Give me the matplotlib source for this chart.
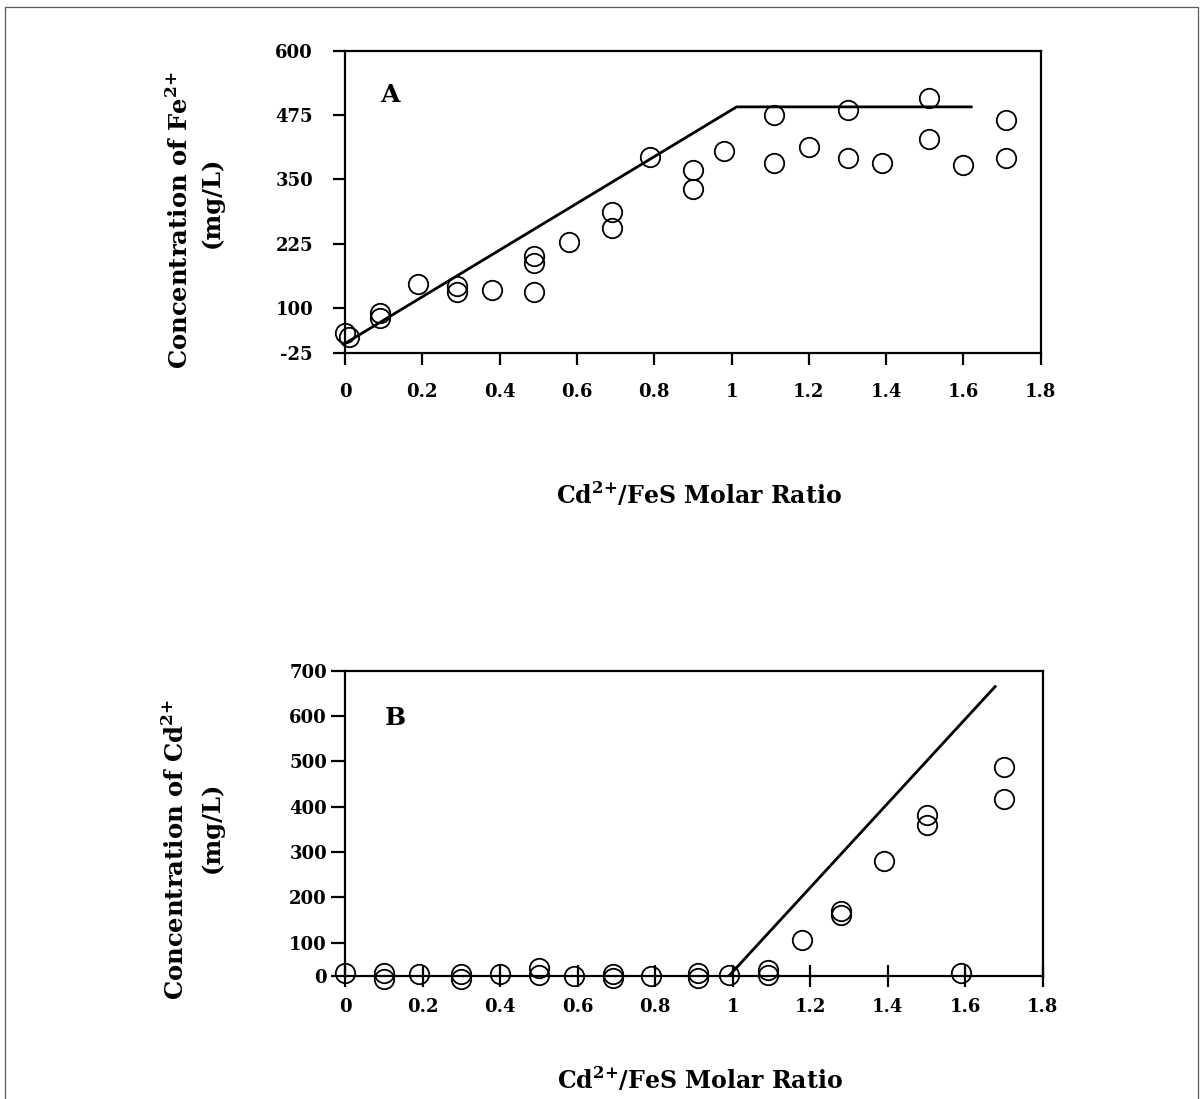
import numpy as np
import matplotlib
matplotlib.use("Agg")
import matplotlib.pyplot as plt
from matplotlib.patches import Rectangle
from matplotlib.ticker import FormatStrFormatter

plt.rcParams['font.family'] = ['DejaVu Serif']
plt.rcParams['font.weight'] = 'bold'
plt.rcParams['axes.unicode_minus'] = False
plt.rcParams['mathtext.fontset'] = 'custom'
plt.rcParams['mathtext.rm'] = 'DejaVu Serif:bold'
plt.rcParams['mathtext.bf'] = 'DejaVu Serif:bold'

# Fe2+ released vs Cd2+/FeS molar ratio
fe_ratio = [0, 0.01, 0.09, 0.09, 0.19, 0.29, 0.29, 0.38, 0.49, 0.49, 0.49, 0.58,
            0.69, 0.69, 0.79, 0.90, 0.90, 0.98, 1.11, 1.11, 1.20, 1.30, 1.30,
            1.39, 1.51, 1.51, 1.60, 1.71, 1.71]
fe_conc = [31, 20, 86, 71, 146, 142, 131, 134, 200, 188, 131, 228,
           287, 256, 393, 368, 331, 405, 475, 382, 413, 485, 391,
           381, 508, 428, 378, 465, 391]
fe_model_x = [0, 1.013, 1.62]
fe_model_y = [2, 491, 491]

# Cd2+ left in solution
cd_ratio = [0, 0.10, 0.10, 0.19, 0.30, 0.30, 0.40, 0.50, 0.50, 0.59, 0.69, 0.69,
            0.79, 0.91, 0.91, 0.99, 1.09, 1.09, 1.18, 1.28, 1.28, 1.39, 1.50,
            1.50, 1.59, 1.70, 1.70]
cd_conc = [8, 10, -10, 5, 5, -10, 5, 23, 3, 0, 7, -7,
           0, 10, -7, 2, 17, 3, 107, 169, 162, 281, 382,
           360, 10, 487, 418]
cd_model_x = [0.99, 1.677]
cd_model_y = [0, 665]

fe_ticks = [-25, 100, 225, 350, 475, 600]
cd_ticks = [0, 100, 200, 300, 400, 500, 600, 700]
x_ticks = [0, 0.2, 0.4, 0.6, 0.8, 1.0, 1.2, 1.4, 1.6, 1.8]


def squeeze_below(cut, k):
    # the lowest tick interval is drawn shorter than the others
    def fwd(v):
        v = np.asarray(v, dtype=float)
        return np.where(v < cut, cut - (cut - v) * k, v)

    def inv(u):
        u = np.asarray(u, dtype=float)
        return np.where(u < cut, cut - (cut - u) / k, u)
    return fwd, inv


def style_axes(ax, ytk, ylim, ylen, ypad, xdir, xlen, xpad):
    ax.set_xlim(0, 1.8)
    ax.set_ylim(*ylim)
    ax.set_xticks(x_ticks)
    ax.set_yticks(ytk)
    ax.xaxis.set_major_formatter(FormatStrFormatter('%g'))
    for s in ax.spines.values():
        s.set_linewidth(1.6)
    ax.tick_params(axis='y', direction='out', length=ylen, width=1.6,
                   pad=ypad, labelsize=13)
    ax.tick_params(axis='x', direction=xdir, length=xlen, width=1.6,
                   pad=xpad, labelsize=13)
    ax.tick_params(top=False, right=False)


fig = plt.figure(figsize=(12.01, 10.99), dpi=100)
fig.add_artist(Rectangle((5 / 1201, -0.05), 1193 / 1201, 1 - 7 / 1099 + 0.05,
                         transform=fig.transFigure, fill=False, lw=0.9, ec='0.35'))

# panel A
ax1 = fig.add_axes([0.2873, 0.6785, 0.5793, 0.2752])
ax1.set_yscale('function', functions=squeeze_below(100, 0.71))
ax1.plot(fe_model_x, fe_model_y, color='black', lw=2.0)
ax1.plot(fe_ratio, fe_conc, 'o', mfc='none', mec='black', ms=14, mew=1.3, clip_on=False)
style_axes(ax1, fe_ticks, (-25, 600), 9, 14, 'out', 8.5, 13)
ax1.text(0.065, 0.854, 'A', transform=ax1.transAxes, fontsize=18,
         ha='center', va='center')
ax1.text(-0.238, 0.44, 'Concentration of Fe$^{2{+}}$', transform=ax1.transAxes,
         rotation=90, fontsize=17.5, ha='center', va='center')
ax1.text(-0.191, 0.4985, '(mg/L)', transform=ax1.transAxes,
         rotation=90, fontsize=17.5, ha='center', va='center')
ax1.text(0.509, -0.468, 'Cd$^{2{+}}$/FeS Molar Ratio', transform=ax1.transAxes,
         fontsize=17, ha='center', va='center')

# panel B
ax2 = fig.add_axes([0.2873, 0.1119, 0.581, 0.2778])
ax2.set_yscale('function', functions=squeeze_below(100, 0.735))
ax2.plot(cd_model_x, cd_model_y, color='black', lw=2.0)
ax2.plot(cd_ratio, cd_conc, 'o', mfc='none', mec='black', ms=14, mew=1.3, clip_on=False)
style_axes(ax2, cd_ticks, (0, 700), 10, 3, 'inout', 16, 8)
ax2.text(0.072, 0.845, 'B', transform=ax2.transAxes, fontsize=18,
         ha='center', va='center')
ax2.text(-0.243, 0.413, 'Concentration of Cd$^{2{+}}$', transform=ax2.transAxes,
         rotation=90, fontsize=17.5, ha='center', va='center')
ax2.text(-0.191, 0.488, '(mg/L)', transform=ax2.transAxes,
         rotation=90, fontsize=17.5, ha='center', va='center')
ax2.text(0.509, -0.341, 'Cd$^{2{+}}$/FeS Molar Ratio', transform=ax2.transAxes,
         fontsize=17, ha='center', va='center')

fig.savefig('out.png', dpi=100)
